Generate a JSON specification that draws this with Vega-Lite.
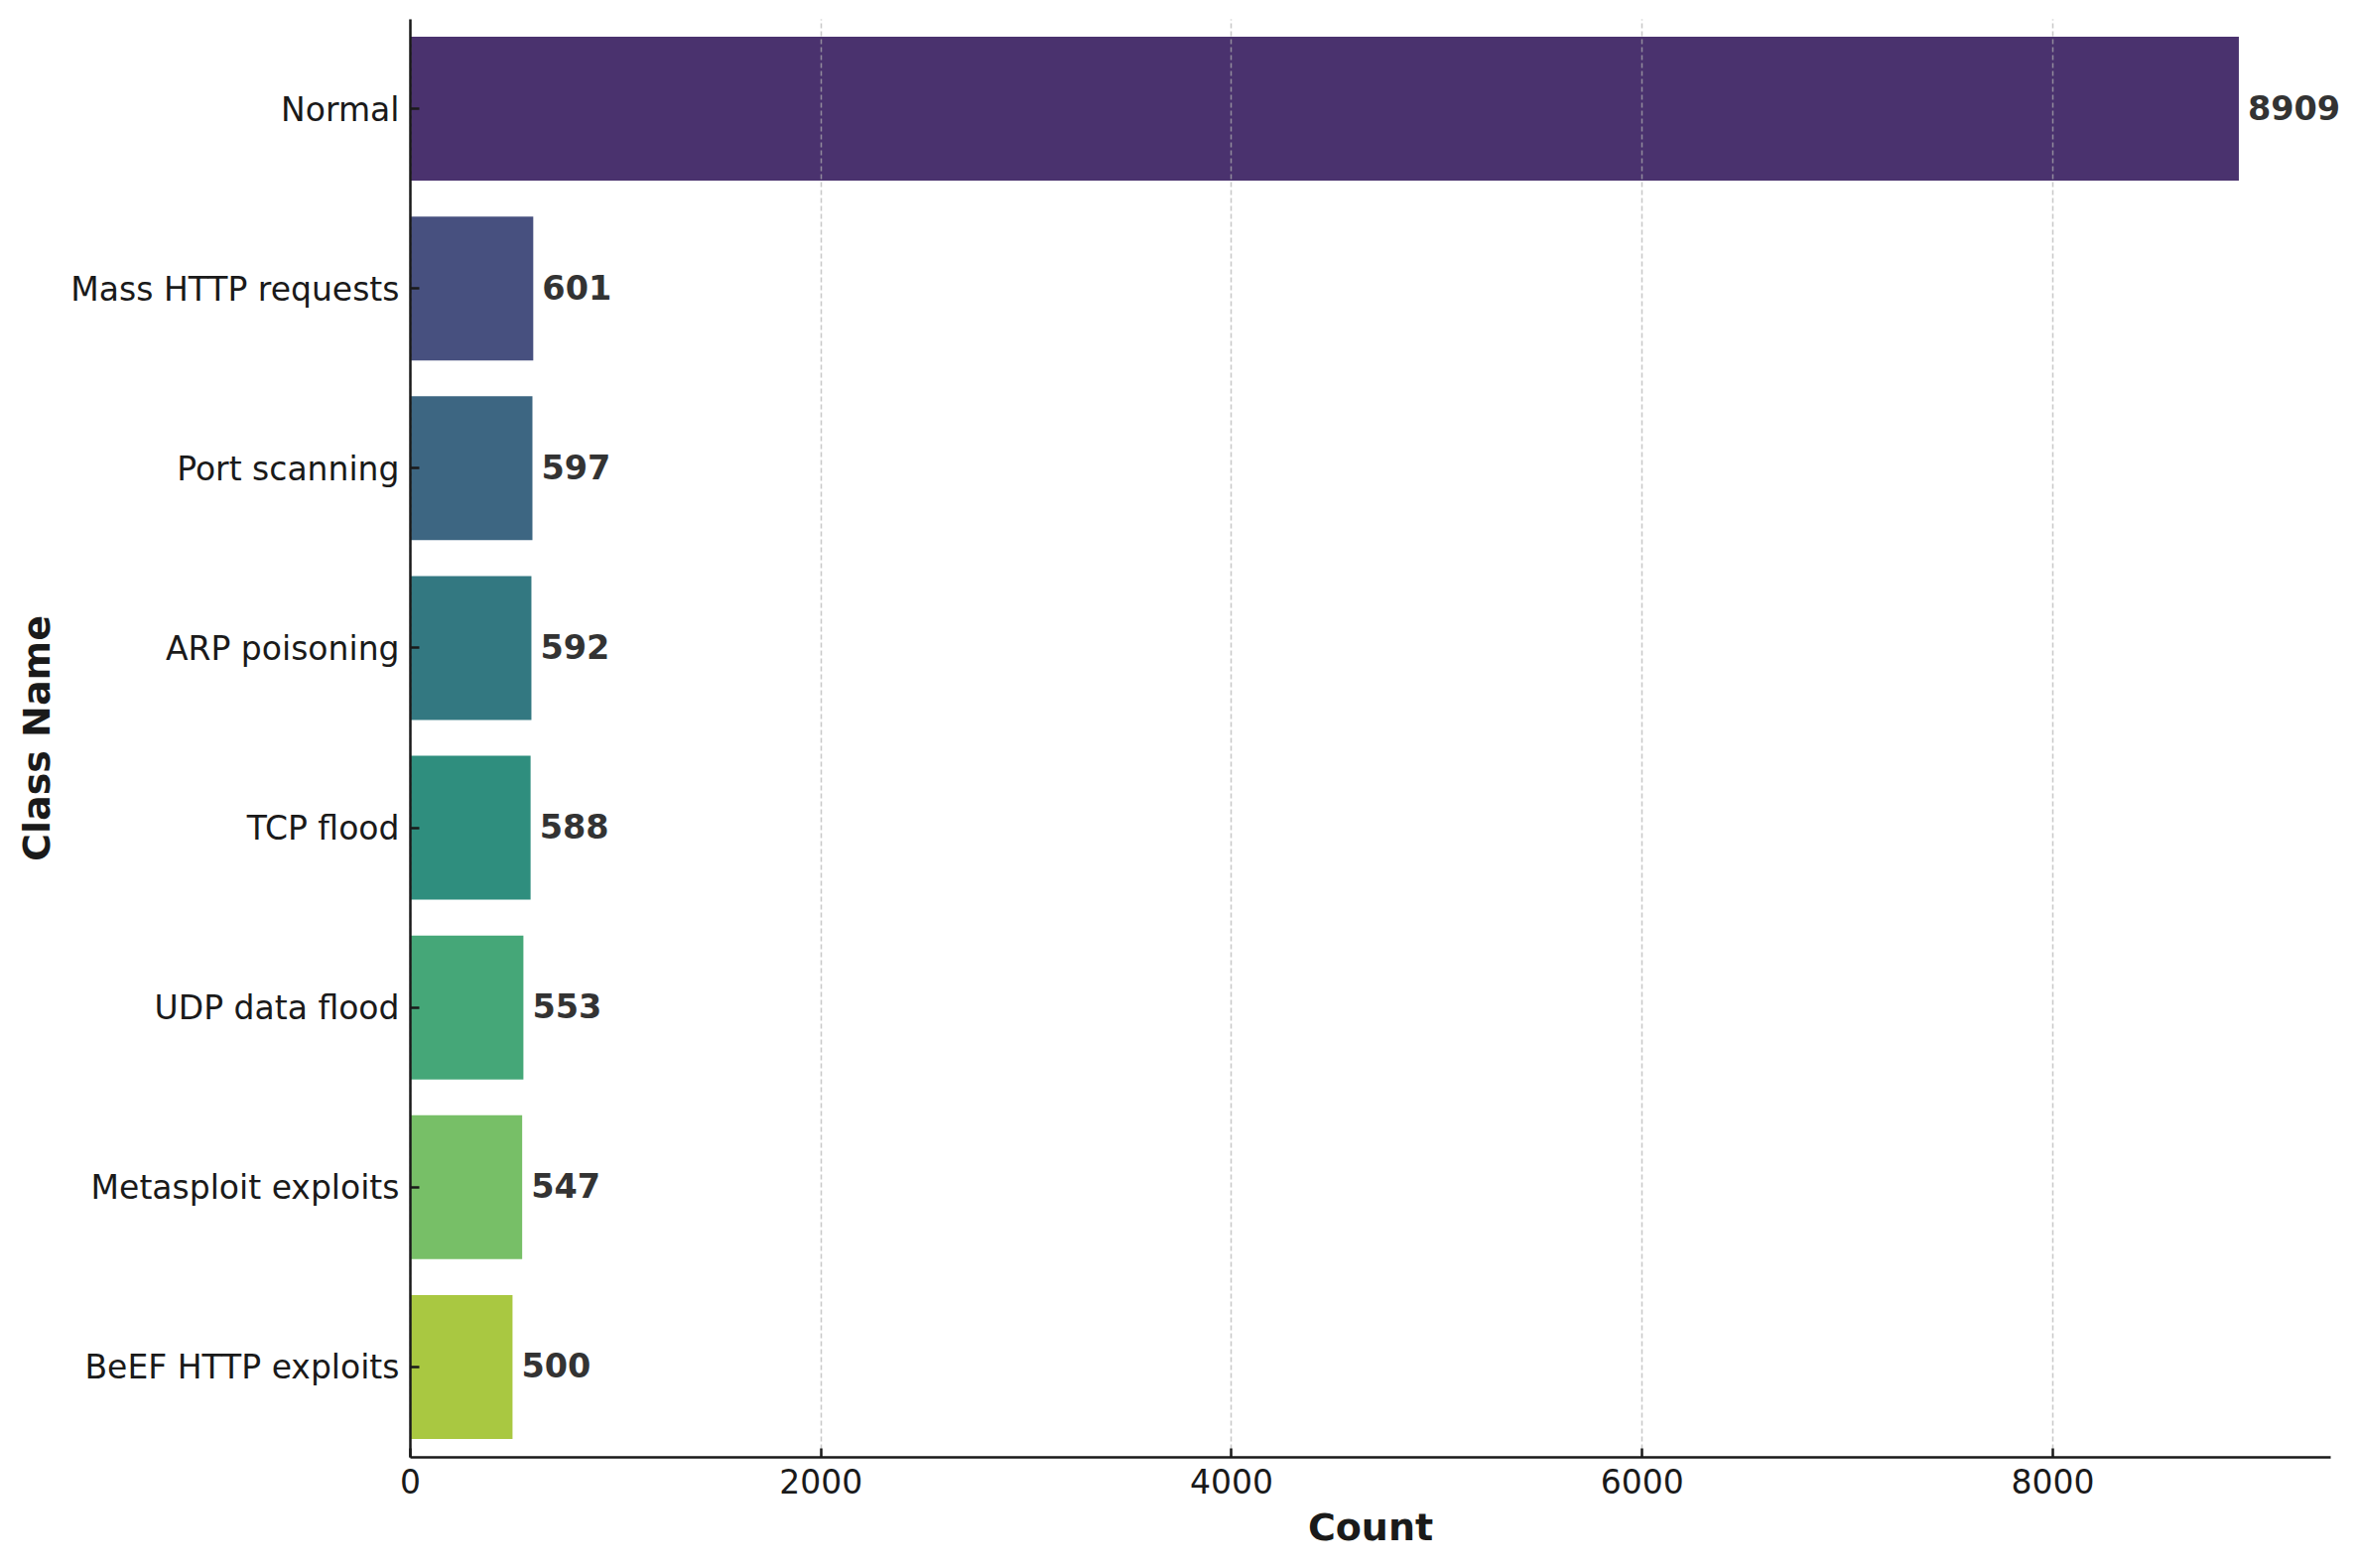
{
  "$schema": "https://vega.github.io/schema/vega-lite/v6.json",
  "width": 1935,
  "height": 1449,
  "autosize": {"type": "none"},
  "padding": {"left": 413, "top": 19, "right": 28, "bottom": 112},
  "background": "white",
  "config": {"view": {"stroke": null}, "font": "DejaVu Sans"},
  "data": {
    "values": [
      {"class": "Normal", "count": 8909},
      {"class": "Mass HTTP requests", "count": 601},
      {"class": "Port scanning", "count": 597},
      {"class": "ARP poisoning", "count": 592},
      {"class": "TCP flood", "count": 588},
      {"class": "UDP data flood", "count": 553},
      {"class": "Metasploit exploits", "count": 547},
      {"class": "BeEF HTTP exploits", "count": 500}
    ]
  },
  "encoding": {
    "y": {
      "field": "class",
      "type": "nominal",
      "sort": null,
      "scale": {"paddingInner": 0.2, "paddingOuter": 0.1},
      "axis": {
        "title": "Class Name",
        "titleFont": "DejaVu Sans",
        "titleFontSize": 38,
        "titleFontWeight": "bold",
        "titleColor": "#1a1a1a",
        "titleAngle": 270,
        "titleAlign": "center",
        "titleBaseline": "middle",
        "titleX": -375,
        "titleY": 724.5,
        "labelFont": "DejaVu Sans",
        "labelFontSize": 33,
        "labelColor": "#1a1a1a",
        "labelLimit": 600,
        "labelPadding": 20,
        "labelOffset": 2,
        "tickSize": -9,
        "tickWidth": 2.5,
        "tickColor": "#1a1a1a",
        "domainColor": "#1a1a1a",
        "domainWidth": 2.5,
        "grid": false,
        "zindex": 1
      }
    },
    "x": {
      "field": "count",
      "type": "quantitative",
      "scale": {"domain": [0, 9354], "nice": false, "zero": true},
      "axis": {
        "values": [0, 2000, 4000, 6000, 8000],
        "format": "d",
        "title": "Count",
        "titleFont": "DejaVu Sans",
        "titleFontSize": 38,
        "titleFontWeight": "bold",
        "titleColor": "#1a1a1a",
        "titleY": 83,
        "titleBaseline": "alphabetic",
        "labelFont": "DejaVu Sans",
        "labelFontSize": 33,
        "labelColor": "#1a1a1a",
        "labelPadding": 19,
        "labelFlush": false,
        "labelOverlap": false,
        "tickSize": -9,
        "tickWidth": 2.5,
        "tickColor": "#1a1a1a",
        "domainColor": "#1a1a1a",
        "domainWidth": 2.5,
        "grid": true,
        "gridColor": "#b0b0b0",
        "gridOpacity": 0.7,
        "gridWidth": 1.5,
        "gridDash": [5, 3],
        "zindex": 1
      }
    }
  },
  "layer": [
    {
      "mark": {"type": "bar"},
      "encoding": {
        "color": {
          "field": "class",
          "type": "nominal",
          "sort": null,
          "legend": null,
          "scale": {
            "domain": ["Normal", "Mass HTTP requests", "Port scanning", "ARP poisoning", "TCP flood", "UDP data flood", "Metasploit exploits", "BeEF HTTP exploits"],
            "range": ["#4a326e", "#47507f", "#3d6682", "#337881", "#2f8e7e", "#45a778", "#77bf67", "#a9c841"]
          }
        }
      }
    },
    {
      "mark": {
        "type": "text",
        "align": "left",
        "baseline": "middle",
        "dx": 9,
        "dy": 1,
        "font": "DejaVu Sans",
        "fontSize": 33.5,
        "fontWeight": "bold",
        "color": "#333333"
      },
      "encoding": {
        "text": {"field": "count", "type": "quantitative", "format": "d"}
      }
    }
  ]
}
